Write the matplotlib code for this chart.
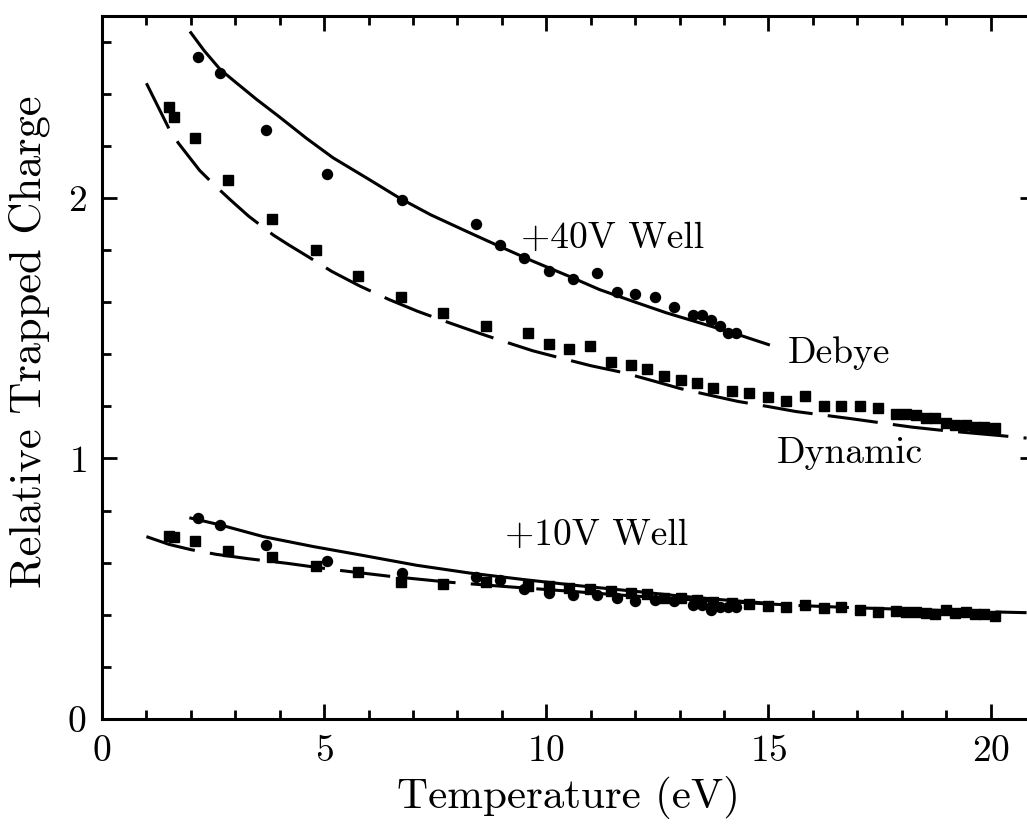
import matplotlib
matplotlib.use('Agg')
import matplotlib.pyplot as plt
from matplotlib.ticker import MultipleLocator

plt.rcParams['font.family'] = ['cmr10', 'DejaVu Serif']
plt.rcParams['axes.formatter.use_mathtext'] = True

# measured points: circles (+40V / +10V wells share temperatures)
circ_T = [2.16, 2.66, 3.69, 5.07, 6.76, 8.42, 8.96, 9.5, 10.06, 10.6, 11.14,
          11.6, 12.0, 12.45, 12.88, 13.3, 13.5, 13.7, 13.9, 14.1, 14.28]
circ_40 = [2.54, 2.48, 2.26, 2.09, 1.99, 1.90, 1.82, 1.77, 1.72, 1.69, 1.71,
           1.64, 1.63, 1.62, 1.58, 1.55, 1.55, 1.53, 1.51, 1.48, 1.48]
circ_10 = [0.77, 0.743, 0.666, 0.607, 0.56, 0.545, 0.535, 0.50, 0.483, 0.477, 0.474,
           0.464, 0.453, 0.457, 0.451, 0.438, 0.436, 0.42, 0.43, 0.43, 0.43]

# squares
sq_T = [1.51, 1.61, 2.1, 2.83, 3.82, 4.82, 5.76, 6.73, 7.68, 8.65, 9.59, 10.06,
        10.52, 10.99, 11.46, 11.91, 12.27, 12.66, 13.04, 13.4, 13.76, 14.19, 14.57,
        15.0, 15.4, 15.83, 16.24, 16.64, 17.05, 17.46, 17.88, 18.1, 18.33, 18.54,
        18.76, 19.0, 19.2, 19.44, 19.66, 19.86, 20.1]
sq_40 = [2.35, 2.31, 2.23, 2.07, 1.92, 1.80, 1.70, 1.62, 1.56, 1.51, 1.48, 1.44,
         1.42, 1.43, 1.37, 1.36, 1.345, 1.315, 1.30, 1.29, 1.27, 1.26, 1.25,
         1.235, 1.22, 1.24, 1.20, 1.20, 1.20, 1.195, 1.17, 1.17, 1.165, 1.155,
         1.155, 1.135, 1.13, 1.13, 1.12, 1.12, 1.115]
sq_10 = [0.703, 0.70, 0.685, 0.645, 0.621, 0.588, 0.566, 0.525, 0.517, 0.524, 0.51, 0.511,
         0.503, 0.50, 0.492, 0.485, 0.479, 0.463, 0.463, 0.455, 0.45, 0.445, 0.44,
         0.435, 0.431, 0.438, 0.425, 0.429, 0.419, 0.412, 0.416, 0.412, 0.41, 0.406,
         0.402, 0.419, 0.406, 0.412, 0.402, 0.402, 0.396]

# Debye model curves (solid)
deb40_T = [2.0, 2.3, 2.66, 3.0, 3.48, 4.0, 4.6, 5.2, 6.0, 6.7, 7.4, 8.2, 9.0,
           9.7, 10.5, 11.2, 12.0, 12.7, 13.5, 14.2, 15.0]
deb_40 = [2.634, 2.565, 2.493, 2.445, 2.378, 2.31, 2.229, 2.154, 2.072, 1.999,
          1.935, 1.872, 1.81, 1.757, 1.70, 1.648, 1.60, 1.559, 1.518, 1.482, 1.437]
deb10_T = [2.0, 2.66, 3.63, 4.75, 5.8, 7.08, 8.28, 9.5, 10.76, 12.0, 13.0, 14.0, 15.0]
deb_10 = [0.771, 0.745, 0.70, 0.662, 0.630, 0.590, 0.56, 0.535, 0.511, 0.49, 0.472,
          0.457, 0.444]

# dynamic model curves (dashed)
dyn40_T = [1.0, 1.51, 1.72, 2.2, 2.57, 2.88, 3.3, 3.86, 4.19, 4.7, 5.17, 5.8, 6.46,
           7.1, 7.81, 8.5, 9.1, 9.7, 10.4, 11.0, 11.72, 12.4, 13.02, 13.7, 14.31,
           15.0, 15.62, 16.3, 16.93, 17.6, 18.24, 18.9, 19.54, 20.2, 20.81]
dyn_40 = [2.44, 2.265, 2.21, 2.105, 2.043, 1.994, 1.93, 1.857, 1.821, 1.768, 1.718,
          1.662, 1.61, 1.565, 1.521, 1.48, 1.446, 1.413, 1.382, 1.356, 1.330, 1.298,
          1.268, 1.242, 1.219, 1.199, 1.18, 1.165, 1.151, 1.135, 1.12, 1.108, 1.098,
          1.088, 1.078]
dyn10_T = [1.0, 1.51, 2.0, 2.57, 3.3, 4.19, 5.17, 6.46, 7.81, 9.1, 10.4, 11.72,
           13.02, 14.31, 15.62, 16.93, 18.24, 19.54, 20.81]
dyn_10 = [0.70, 0.67, 0.65, 0.632, 0.615, 0.597, 0.574, 0.548, 0.525, 0.508, 0.492,
          0.475, 0.46, 0.448, 0.436, 0.427, 0.42, 0.413, 0.408]

fig = plt.figure(figsize=(10.27, 8.25), dpi=100)
ax = fig.add_axes([0.0993, 0.1285, 0.9085, 0.8527])

lw = 2.2
dash = (0, (16.5, 5))
ax.plot(deb40_T, deb_40, color='black', lw=lw)
ax.plot(deb10_T, deb_10, color='black', lw=lw)
ax.plot(dyn40_T, dyn_40, color='black', lw=lw, linestyle=dash)
ax.plot(dyn10_T, dyn_10, color='black', lw=lw, linestyle=dash)

ax.plot(circ_T, circ_40, 'o', color='black', ms=7.2)
ax.plot(circ_T, circ_10, 'o', color='black', ms=7.2)
ax.plot(sq_T, sq_40, 's', color='black', ms=6.5)
ax.plot(sq_T, sq_10, 's', color='black', ms=6.5)

ax.text(9.44, 1.808, '+40V Well', fontsize=27, va='baseline')
ax.text(15.43, 1.368, 'Debye', fontsize=27, va='baseline')
ax.text(15.19, 0.983, 'Dynamic', fontsize=27, va='baseline')
ax.text(9.07, 0.668, '+10V Well', fontsize=27, va='baseline')

ax.set_xlim(0, 21)
ax.set_ylim(0, 2.7)
ax.xaxis.set_major_locator(MultipleLocator(5))
ax.xaxis.set_minor_locator(MultipleLocator(1))
ax.yaxis.set_major_locator(MultipleLocator(1))
ax.yaxis.set_minor_locator(MultipleLocator(0.2))
ax.tick_params(which='both', direction='in', top=True, right=True, width=2, labelsize=27)
ax.tick_params(which='major', length=10.8, pad=11)
ax.tick_params(which='minor', length=6.5, right=False)
for s in ax.spines.values():
    s.set_linewidth(2.2)

ax.set_xlabel('Temperature (eV)', fontsize=31, labelpad=6)
ax.set_ylabel('Relative Trapped Charge', fontsize=32)
ax.yaxis.set_label_coords(-0.056, 0.536)

fig.savefig('out.png', dpi=100)
